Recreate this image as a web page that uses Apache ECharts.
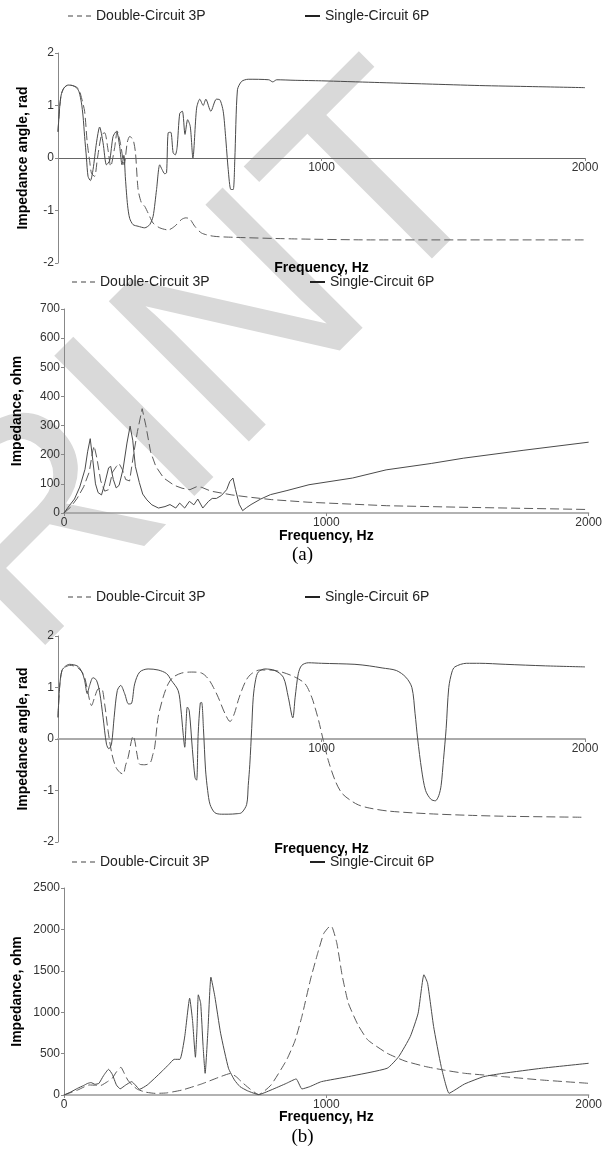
<!DOCTYPE html>
<html>
<head>
<meta charset="utf-8">
<script src="https://cdn.jsdelivr.net/npm/echarts@6/dist/echarts.min.js"></script>
<style>
html, body { margin: 0; padding: 0; background: #fff; }
#main { width: 605px; height: 1149px; }
</style>
</head>
<body>
<div id="main"></div>
<script>
(function () {
    "use strict";

    var seriesNames = ['Double-Circuit 3P', 'Single-Circuit 6P'];
    var freqTicks = [0, 1000, 2000];
    var angleTicks = [-2, -1, 0, 1, 2];
    var impTicksA = [0, 100, 200, 300, 400, 500, 600, 700];
    var impTicksB = [0, 500, 1000, 1500, 2000, 2500];

    // (a) impedance angle, rad  -- [Hz, value]
    var angleA3P = [[0,0.5],[6,0.95],[12,1.2],[22,1.33],[38,1.39],[55,1.38],[70,1.35],[80,1.3],[89,1.15],[101,0.89],
        [111,0.29],[120,-0.05],[127,-0.29],[139,-0.35],[149,-0.03],[165,0.44],[177,0.48],[190,0.15],[200,-0.16],
        [215,0.2],[225,0.51],[238,0.25],[251,-0.13],[263,0.3],[272,0.41],[285,0.35],[294,0.1],[304,-0.6],[317,-0.86],
        [329,-0.92],[342,-1.05],[361,-1.24],[386,-1.33],[418,-1.37],[443,-1.3],[469,-1.17],[485,-1.14],[500,-1.16],
        [519,-1.3],[545,-1.43],[590,-1.49],[664,-1.51],[886,-1.54],[1200,-1.56],[2000,-1.56]];
    var angleA6P = [[0,0.5],[6,0.95],[12,1.2],[22,1.33],[38,1.39],[55,1.38],[70,1.34],[80,1.26],[89,1.05],[95,0.8],
        [101,0.41],[108,0.0],[114,-0.35],[123,-0.43],[133,-0.22],[146,0.29],[158,0.59],[171,0.29],[184,-0.13],
        [196,-0.05],[209,0.41],[222,0.51],[234,0.22],[243,-0.13],[250,0.05],[256,-0.4],[264,-0.9],[272,-1.15],
        [285,-1.27],[304,-1.3],[329,-1.33],[348,-1.27],[361,-1.11],[374,-0.6],[386,-0.13],[395,-0.22],[405,-0.3],
        [412,-0.28],[418,0.48],[428,0.49],[437,0.1],[445,0.06],[452,0.2],[462,0.85],[472,0.89],[482,0.45],[492,0.73],
        [502,0.6],[512,0.0],[526,0.95],[538,1.12],[551,1.0],[561,1.12],[580,0.89],[601,1.12],[614,1.11],[627,0.89],
        [636,0.41],[646,-0.22],[656,-0.6],[665,-0.6],[671,-0.03],[681,1.3],[697,1.46],[722,1.5],[800,1.49],[815,1.45],
        [830,1.49],[900,1.48],[1000,1.47],[1200,1.44],[1400,1.41],[1600,1.38],[1800,1.36],[2000,1.34]];

    // (a) impedance, ohm
    var impA3P = [[0,0],[25,20],[50,50],[75,90],[96,140],[110,215],[115,230],[125,190],[140,110],[155,75],[170,80],
        [185,140],[200,160],[210,170],[222,150],[235,115],[250,110],[265,200],[280,280],[298,358],[312,300],[330,210],
        [350,160],[380,120],[420,95],[450,85],[480,80],[505,90],[525,88],[560,75],[640,62],[700,55],[790,46],[930,37],
        [1230,25],[1500,20],[2000,12]];
    var impA6P = [[0,0],[20,25],[40,48],[60,89],[80,150],[90,210],[100,255],[110,180],[120,100],[130,70],[143,62],
        [155,100],[170,155],[178,160],[188,115],[199,86],[210,95],[225,150],[240,240],[252,298],[262,250],[272,160],
        [287,105],[300,65],[316,45],[335,28],[360,17],[385,22],[404,29],[426,17],[441,34],[460,17],[478,40],[495,28],
        [510,48],[529,17],[551,40],[565,50],[581,50],[600,60],[620,80],[632,108],[644,120],[654,80],[668,30],[681,8],
        [695,18],[713,29],[750,48],[787,63],[850,77],[934,97],[1100,120],[1228,148],[1400,170],[1522,188],[1750,215],
        [2000,243]];

    // (b) impedance angle, rad
    var angleB3P = [[0,0.42],[6,1.0],[15,1.33],[30,1.4],[44,1.43],[60,1.42],[76,1.38],[91,1.3],[101,1.2],[112,0.95],
        [120,0.75],[127,0.65],[139,0.81],[152,0.97],[165,0.98],[177,0.68],[190,0.16],[205,-0.3],[220,-0.55],[235,-0.65],
        [247,-0.68],[257,-0.5],[266,-0.36],[278,-0.05],[285,0.06],[292,-0.05],[300,-0.3],[310,-0.49],[329,-0.5],
        [350,-0.46],[360,-0.3],[367,-0.16],[380,0.42],[399,0.81],[418,1.07],[437,1.2],[469,1.28],[507,1.3],[545,1.28],
        [570,1.17],[590,1.0],[608,0.81],[634,0.49],[653,0.34],[669,0.49],[684,0.75],[697,0.94],[715,1.15],[735,1.27],
        [766,1.34],[804,1.34],[849,1.3],[900,1.2],[938,1.07],[963,0.81],[976,0.6],[989,0.36],[1007,-0.03],[1026,-0.42],
        [1052,-0.81],[1077,-1.05],[1107,-1.18],[1140,-1.28],[1181,-1.34],[1255,-1.4],[1402,-1.45],[1550,-1.48],
        [1697,-1.5],[2000,-1.52]];
    var angleB6P = [[0,0.42],[6,1.0],[15,1.33],[30,1.42],[44,1.45],[60,1.44],[76,1.41],[91,1.3],[101,1.14],[111,0.88],
        [120,1.04],[133,1.19],[146,1.14],[158,0.91],[171,0.42],[184,-0.1],[193,-0.19],[203,-0.1],[213,0.42],[225,0.94],
        [238,1.04],[253,0.88],[268,0.68],[279,0.69],[291,1.07],[310,1.3],[342,1.36],[380,1.34],[412,1.27],[430,1.14],
        [456,0.94],[466,0.6],[475,0.1],[481,-0.16],[486,0.3],[491,0.62],[498,0.55],[510,-0.2],[520,-0.75],[526,-0.8],
        [532,0.1],[540,0.7],[545,0.71],[552,0.2],[560,-0.6],[568,-1.0],[577,-1.27],[595,-1.43],[620,-1.46],[646,-1.46],
        [680,-1.45],[697,-1.43],[716,-1.27],[722,-0.9],[728,-0.49],[735,0.2],[741,0.81],[750,1.15],[760,1.3],[785,1.36],
        [823,1.33],[855,1.2],[874,0.81],[891,0.41],[900,0.81],[912,1.27],[925,1.43],[950,1.48],[1000,1.47],[1127,1.45],
        [1181,1.42],[1230,1.38],[1284,1.33],[1320,1.2],[1343,1.0],[1355,0.5],[1365,0.0],[1380,-0.6],[1395,-1.0],
        [1415,-1.17],[1432,-1.2],[1445,-1.1],[1454,-0.9],[1463,-0.4],[1473,0.2],[1483,1.0],[1495,1.3],[1506,1.4],
        [1550,1.47],[1600,1.47],[1697,1.45],[1850,1.42],[2000,1.4]];

    // (b) impedance, ohm
    var impB3P = [[0,0],[52,60],[96,121],[120,118],[140,115],[165,160],[184,202],[200,280],[217,335],[230,260],
        [243,181],[260,120],[280,69],[310,35],[347,20],[391,25],[450,60],[524,133],[597,222],[634,260],[656,222],
        [680,150],[710,70],[742,5],[789,120],[848,420],[880,650],[907,950],[940,1400],[966,1700],[990,1950],[1010,2030],
        [1020,2036],[1040,1835],[1060,1450],[1084,1109],[1120,850],[1158,665],[1232,504],[1300,410],[1379,343],
        [1450,300],[1527,262],[1674,222],[1821,181],[2000,141]];
    var impB6P = [[0,0],[25,35],[52,81],[75,115],[90,140],[103,150],[118,129],[133,140],[150,230],[170,310],[184,250],
        [200,120],[214,75],[235,120],[258,161],[272,120],[288,69],[317,120],[345,200],[376,294],[400,370],[420,431],
        [442,431],[460,700],[479,1169],[490,900],[501,456],[507,800],[512,1210],[521,1109],[530,600],[538,262],
        [549,800],[560,1423],[575,1190],[597,746],[627,323],[650,180],[671,101],[700,50],[742,5],[789,60],[848,141],
        [885,194],[907,73],[937,101],[981,161],[1084,222],[1232,323],[1276,464],[1320,706],[1350,988],[1372,1452],
        [1386,1351],[1409,827],[1438,343],[1468,20],[1490,60],[1527,133],[1600,222],[1674,262],[1821,323],[2000,383]];

    // layout of the four panels; the angle panels put the frequency axis through y = 0
    var panels = [
        { left: 58, top: 53, width: 527, height: 210, ticks: angleTicks, yName: 'Impedance angle, rad', yNameGap: 28,
          xNameGap: 103, midAxis: true, xLine: '#666', xLineWidth: 1, legendTop: 9, legendLeft: [68, 305],
          smooth: 0.25, data: [angleA3P, angleA6P] },
        { left: 64, top: 309, width: 526, height: 204, ticks: impTicksA, yName: 'Impedance, ohm', yNameGap: 40,
          xNameGap: 16, midAxis: false, xLine: '#999', xLineWidth: 1.5, legendTop: 275, legendLeft: [72, 310],
          smooth: false, data: [impA3P, impA6P] },
        { left: 58, top: 636, width: 527, height: 206, ticks: angleTicks, yName: 'Impedance angle, rad', yNameGap: 28,
          xNameGap: 103, midAxis: true, xLine: '#aaa', xLineWidth: 2, legendTop: 590, legendLeft: [68, 305],
          smooth: 0.3, data: [angleB3P, angleB6P] },
        { left: 64, top: 888, width: 526, height: 207, ticks: impTicksB, yName: 'Impedance, ohm', yNameGap: 40,
          xNameGap: 15, midAxis: false, xLine: '#999', xLineWidth: 1.5, legendTop: 855, legendLeft: [72, 310],
          smooth: 0.15, data: [impB3P, impB6P] }
    ];

    var fontSans = 'Liberation Sans, Arial, sans-serif';
    var grids = [], xAxes = [], yAxes = [], series = [], legends = [];

    function nameStyle() {
        return { fontFamily: fontSans, fontWeight: 'bold', fontSize: 14, color: '#000' };
    }

    panels.forEach(function (p, i) {
        var ticks = p.ticks;
        grids.push({ left: p.left, top: p.top, width: p.width, height: p.height, containLabel: false });
        xAxes.push({
            type: 'value', gridIndex: i, position: 'bottom',
            offset: p.midAxis ? -p.height / 2 : 0,
            min: freqTicks[0], max: freqTicks[freqTicks.length - 1], interval: freqTicks[1] - freqTicks[0],
            name: 'Frequency, Hz', nameLocation: 'middle', nameGap: p.xNameGap, nameMoveOverlap: false,
            nameTextStyle: nameStyle(),
            axisLine: { show: true, onZero: false, lineStyle: { color: p.xLine, width: p.xLineWidth } },
            axisTick: { show: true, length: 3, lineStyle: { color: '#888' } },
            axisLabel: {
                margin: 4, fontSize: 12, fontFamily: fontSans, color: '#333',
                formatter: function (v) { return (p.midAxis && v === 0) ? '' : String(v); }
            },
            splitLine: { show: false }
        });
        yAxes.push({
            type: 'value', gridIndex: i,
            min: ticks[0], max: ticks[ticks.length - 1], interval: ticks[1] - ticks[0],
            name: p.yName, nameLocation: 'middle', nameGap: p.yNameGap, nameMoveOverlap: false,
            nameTextStyle: nameStyle(),
            axisLine: { show: true, onZero: false, lineStyle: { color: '#888', width: 1 } },
            axisTick: { show: true, length: 3, lineStyle: { color: '#888' } },
            axisLabel: {
                margin: 4, fontSize: 12, fontFamily: fontSans, color: '#333',
                formatter: function (v) { return String(v); }
            },
            splitLine: { show: false }
        });
        series.push({
            name: seriesNames[0], type: 'line', xAxisIndex: i, yAxisIndex: i,
            data: p.data[0], symbol: 'none', smooth: p.smooth, z: 3,
            lineStyle: { color: '#5c5c5c', width: 1, type: [9, 4] },
            itemStyle: { color: '#444' }
        });
        series.push({
            name: seriesNames[1], type: 'line', xAxisIndex: i, yAxisIndex: i,
            data: p.data[1], symbol: 'none', smooth: p.smooth, z: 4,
            lineStyle: { color: '#4a4a4a', width: 1, type: 'solid' },
            itemStyle: { color: '#222' }
        });
        legends.push({
            left: p.legendLeft[0], top: p.legendTop, data: [seriesNames[0]], padding: 0,
            icon: 'path://M0,0h5v1h-5zM9,0h5v1h-5zM18,0h5v1h-5z', itemWidth: 23, itemHeight: 1.4,
            selectedMode: false,
            textStyle: { fontFamily: fontSans, fontSize: 14, color: '#222' }
        });
        legends.push({
            left: p.legendLeft[1], top: p.legendTop, data: [seriesNames[1]], padding: 0,
            icon: 'rect', itemWidth: 15, itemHeight: 2, selectedMode: false,
            textStyle: { fontFamily: fontSans, fontSize: 14, color: '#222' }
        });
    });

    var option = {
        backgroundColor: '#fff',
        animation: false,
        title: [
            { text: '(a)', left: 'center', top: 546, padding: 0,
              textStyle: { fontFamily: 'Liberation Serif, Times New Roman, serif', fontWeight: 'normal', fontSize: 19, color: '#000' } },
            { text: '(b)', left: 'center', top: 1128, padding: 0,
              textStyle: { fontFamily: 'Liberation Serif, Times New Roman, serif', fontWeight: 'normal', fontSize: 19, color: '#000' } }
        ],
        graphic: [{
            type: 'text', z: -10, silent: true,
            x: 142, y: 436, rotation: Math.PI / 4,
            style: {
                text: 'PRINT', fill: '#d9d9d9',
                fontFamily: fontSans, fontSize: 288,
                align: 'center', verticalAlign: 'middle'
            }
        }],
        legend: legends,
        grid: grids,
        xAxis: xAxes,
        yAxis: yAxes,
        series: series
    };

    var chart = echarts.init(document.getElementById('main'), null, { renderer: 'canvas' });
    chart.setOption(option);
}());
</script>
</body>
</html>
